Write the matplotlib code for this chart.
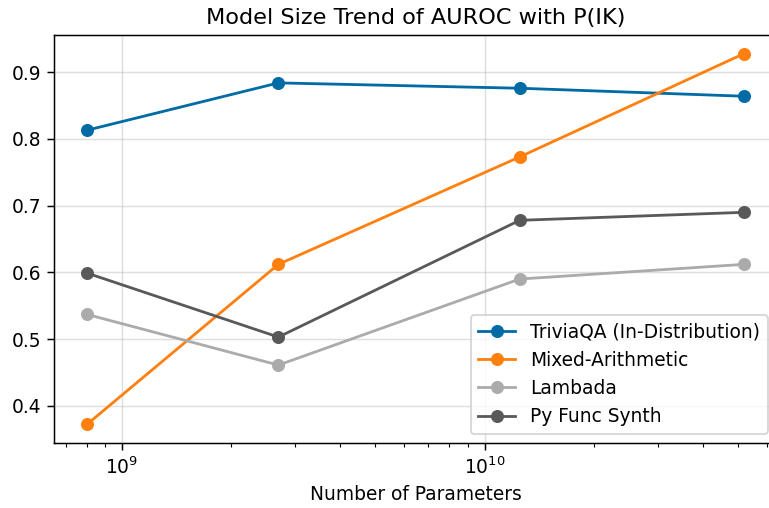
import matplotlib
matplotlib.use('Agg')
import matplotlib.pyplot as plt

plt.style.use('tableau-colorblind10')

# 模型参数量
params = [8.0e8, 2.7e9, 1.25e10, 5.2e10]

# 各数据集的 AUROC
trivia = [0.813, 0.884, 0.876, 0.864]
arith = [0.372, 0.612, 0.773, 0.928]
lambada = [0.537, 0.461, 0.590, 0.612]
pyfunc = [0.599, 0.503, 0.678, 0.690]

series = [
    ('TriviaQA (In-Distribution)', trivia),
    ('Mixed-Arithmetic', arith),
    ('Lambada', lambada),
    ('Py Func Synth', pyfunc),
]

dpi = 134
fig = plt.figure(figsize=(769 / dpi, 508 / dpi), dpi=dpi)
# 右边框在原图中被裁掉了
ax = fig.add_axes([54 / 769, 1 - 443 / 508, (777 - 54) / 769, (443 - 35) / 508])
for name, vals in series:
    ax.plot(params, vals, marker='o', label=name)

ax.set_xscale('log')
ax.set_xlabel('Number of Parameters')
ax.set_title('Model Size Trend of AUROC with P(IK)')
ax.grid(True, alpha=0.4)
ax.set_axisbelow(True)
ax.legend(loc='lower right')

plt.savefig('out.png', dpi=dpi)
